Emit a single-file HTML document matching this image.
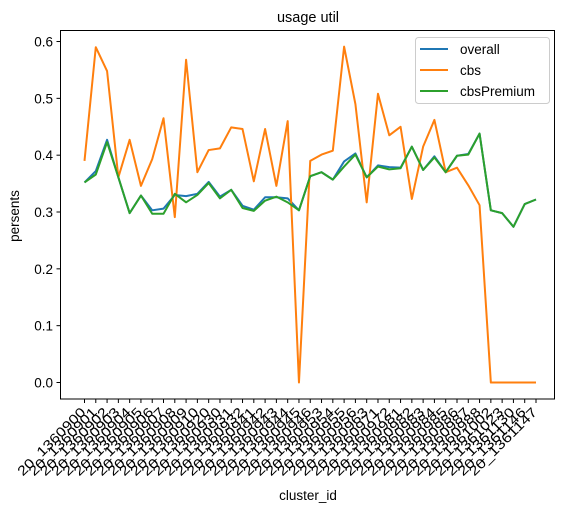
<!DOCTYPE html>
<html><head><meta charset="utf-8"><style>
body{margin:0;background:#fff;}
svg{display:block;font-family:"Liberation Sans","DejaVu Sans",sans-serif;}
</style></head><body>
<svg id="chart" width="567" height="510">
<rect x="0" y="0" width="567" height="510" fill="#fff"/>
<text x="308" y="22" text-anchor="middle" font-size="14.5">usage util</text>
<g id="grid"></g>
<g id="series"></g>
<rect x="60.5" y="30.5" width="494" height="368.5" fill="none" stroke="#000" stroke-width="1"/>
<text x="19" y="216" text-anchor="middle" font-size="13.5" transform="rotate(-90 19 216)">persents</text>
<text x="308" y="500" text-anchor="middle" font-size="13.5">cluster_id</text>
<g>
<rect x="415.5" y="37.5" width="134" height="66" rx="3" fill="#fff" fill-opacity="0.8" stroke="#ccc"/>
<line x1="420" y1="49" x2="448" y2="49" stroke="#1f77b4" stroke-width="2"/>
<text x="460" y="54" font-size="13.5">overall</text>
<line x1="420" y1="70" x2="448" y2="70" stroke="#ff7f0e" stroke-width="2"/>
<text x="460" y="75" font-size="13.5">cbs</text>
<line x1="420" y1="91" x2="448" y2="91" stroke="#2ca02c" stroke-width="2"/>
<text x="460" y="96" font-size="13.5">cbsPremium</text>
</g>
</svg>
<script>
const categories = ["20_1360900","20_1360901","20_1360902","20_1360903","20_1360904","20_1360905","20_1360906","20_1360907","20_1360908","20_1360909","20_1360910","20_1360920","20_1360930","20_1360931","20_1360932","20_1360941","20_1360942","20_1360943","20_1360944","20_1360945","20_1360946","20_1360953","20_1360954","20_1360955","20_1360956","20_1360963","20_1360971","20_1360972","20_1360981","20_1360982","20_1360983","20_1360984","20_1360985","20_1360986","20_1360987","20_1360988","20_1361002","20_1361023","20_1361130","20_1361146","20_1361147"];
const overall = [0.352,0.372,0.427,0.361,0.298,0.329,0.303,0.306,0.330,0.328,0.332,0.353,0.327,0.339,0.311,0.304,0.326,0.326,0.324,0.303,0.363,0.37,0.357,0.389,0.403,0.361,0.382,0.379,0.378,0.415,0.374,0.398,0.37,0.399,0.402,0.438,0.303,0.298,0.274,0.314,0.322];
const cbs = [0.39,0.59,0.548,0.361,0.427,0.346,0.393,0.465,0.291,0.568,0.37,0.409,0.412,0.449,0.446,0.354,0.446,0.346,0.46,0,0.39,0.401,0.408,0.591,0.49,0.317,0.508,0.435,0.45,0.323,0.415,0.462,0.37,0.378,0.347,0.312,0,0,0,0,0];
const cbsPremium = [0.352,0.366,0.423,0.361,0.298,0.329,0.297,0.297,0.332,0.317,0.330,0.351,0.324,0.339,0.307,0.302,0.320,0.327,0.317,0.303,0.363,0.37,0.357,0.38,0.401,0.361,0.38,0.375,0.377,0.415,0.374,0.396,0.37,0.399,0.401,0.438,0.303,0.298,0.274,0.314,0.322];
const yTicks = [0.0,0.1,0.2,0.3,0.4,0.5,0.6];
const yTickLabels = ["0.0","0.1","0.2","0.3","0.4","0.5","0.6"];

const NS="http://www.w3.org/2000/svg";
const X0=84.5, X1=536, Y0=382.5, YS=568.3, BOT=399;
function xs(i){return X0+(X1-X0)*i/(categories.length-1);}
function ys(v){return Y0-v*YS;}
const grid=document.getElementById('grid');
yTicks.forEach((t,i)=>{
  const y=ys(t);
  const l=document.createElementNS(NS,'line');
  l.setAttribute('x1',56.5);l.setAttribute('x2',60.5);l.setAttribute('y1',y);l.setAttribute('y2',y);l.setAttribute('stroke','#000');
  
  
  grid.appendChild(l);
  const tx=document.createElementNS(NS,'text');
  tx.setAttribute('x',53);tx.setAttribute('y',y+5);tx.setAttribute('text-anchor','end');tx.setAttribute('font-size','13.5');
  tx.textContent=yTickLabels[i];
  
  
  grid.appendChild(tx);
});
categories.forEach((c,i)=>{
  const x=xs(i);
  const l=document.createElementNS(NS,'line');
  l.setAttribute('x1',x);l.setAttribute('x2',x);l.setAttribute('y1',BOT);l.setAttribute('y2',BOT+4);l.setAttribute('stroke','#000');
  
  
  grid.appendChild(l);
  const tx=document.createElementNS(NS,'text');
  const ax=x+2, ay=BOT+14;
  tx.setAttribute('x',ax);tx.setAttribute('y',ay);tx.setAttribute('text-anchor','end');tx.setAttribute('font-size','13.5');
  tx.setAttribute('textLength','90');tx.setAttribute('lengthAdjust','spacingAndGlyphs');
  tx.setAttribute('transform','rotate(-45 '+ax+' '+ay+')');
  tx.textContent=c;
  
  
  grid.appendChild(tx);
});
const sg=document.getElementById('series');
[[overall,'#1f77b4','line-overall'],[cbs,'#ff7f0e','line-cbs'],[cbsPremium,'#2ca02c','line-cbspremium']].forEach(s=>{
  const p=document.createElementNS(NS,'polyline');
  p.setAttribute('points',s[0].map((v,i)=>xs(i)+','+ys(v)).join(' '));
  p.setAttribute('fill','none');p.setAttribute('stroke',s[1]);p.setAttribute('stroke-width','2');p.setAttribute('stroke-linejoin','round');
  
  
  sg.appendChild(p);
});
</script>
</body></html>
